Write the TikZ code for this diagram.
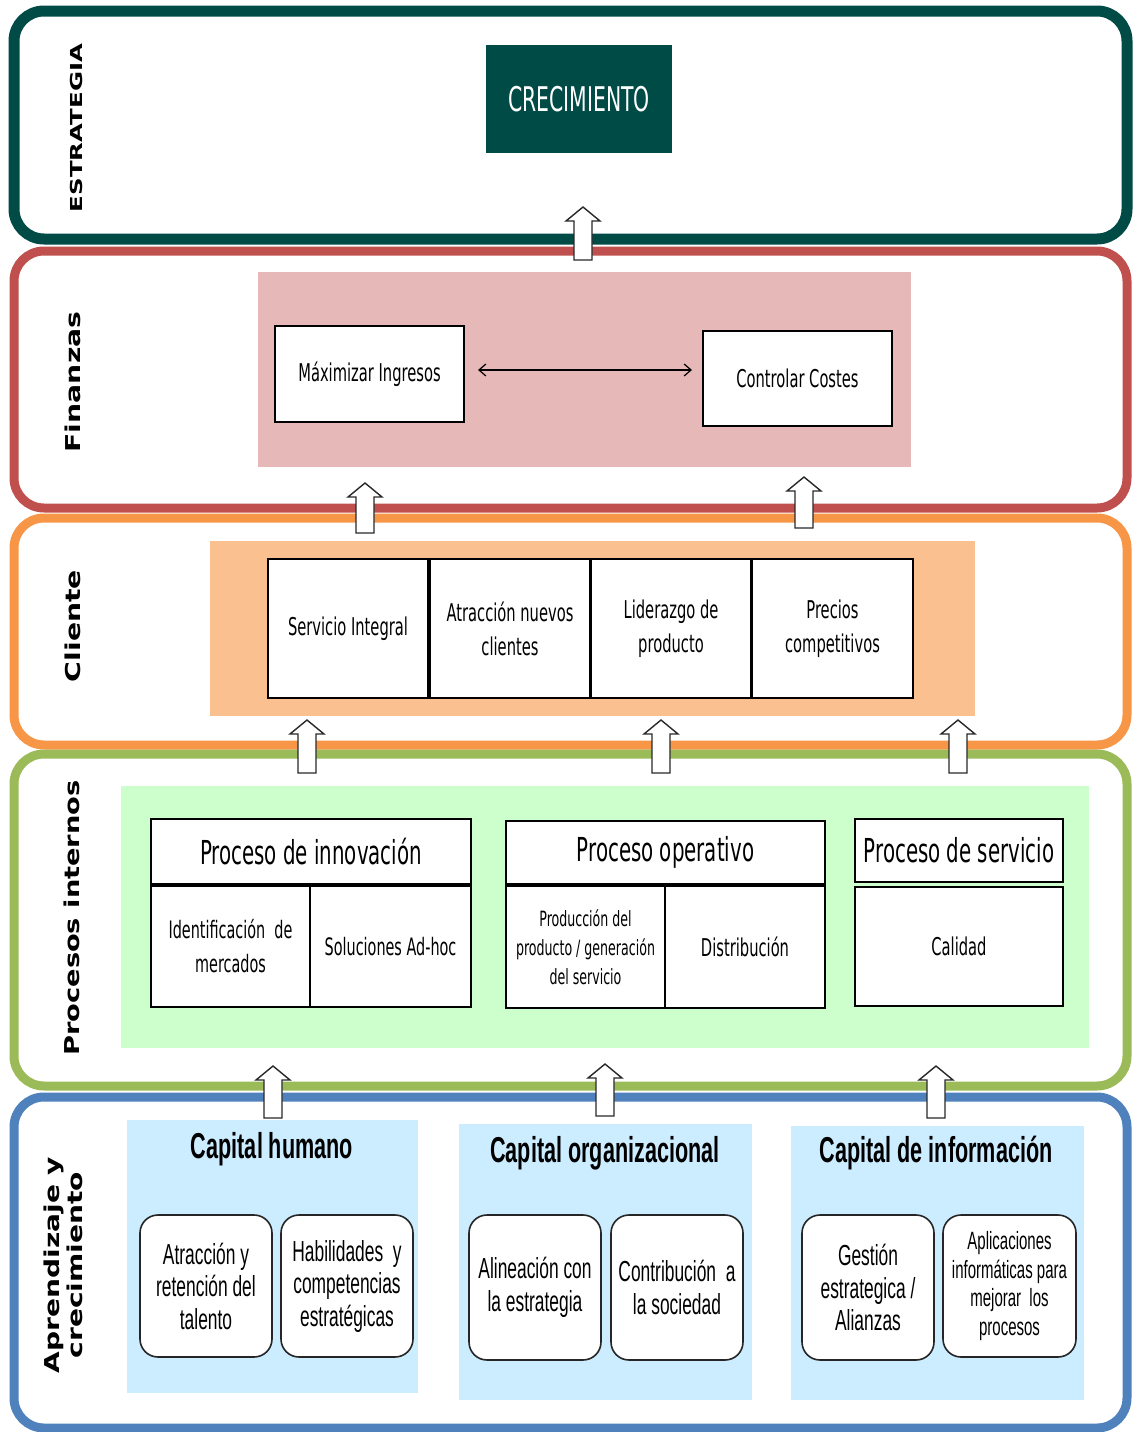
\documentclass[tikz,border=0pt]{standalone}
\usepackage{fontspec}
\usepackage{graphicx}
\usetikzlibrary{calc,arrows.meta}

% condensed faces for box texts, plain face for the lane titles
\newfontfamily\tahf[FakeStretch=0.6]{DejaVu Sans}
\newfontfamily\arf[FakeStretch=0.6]{Liberation Sans}
\newfontfamily\labf{DejaVu Sans}

\definecolor{cteal}{RGB}{1,75,71}
\definecolor{cred}{RGB}{192,80,77}
\definecolor{corange}{RGB}{247,150,70}
\definecolor{cgreen}{RGB}{155,187,89}
\definecolor{cblue}{RGB}{79,129,189}
\definecolor{fpink}{RGB}{230,184,183}
\definecolor{forange}{RGB}{250,192,143}
\definecolor{fgreen}{RGB}{204,255,204}
\definecolor{fblue}{RGB}{204,236,255}
\definecolor{arrline}{RGB}{40,40,40}

\tikzset{
  band/.style={line width=9pt, rounded corners=30pt, fill=white},
  panel/.style={draw=none, inner sep=0pt, outer sep=0pt, anchor=north west},
  cell/.style={draw=black, line width=1.6pt, fill=white, inner sep=0pt, outer sep=0pt,
    anchor=north west, align=center, font=\tahf\fontsize{24.5}{34}\selectfont},
  rcell/.style={cell, draw=black!85, rounded corners=18pt, font=\arf\fontsize{29}{32.5}\selectfont},
  headcell/.style={cell, font=\tahf\fontsize{33}{40}\selectfont},
  captitle/.style={anchor=base, inner sep=0pt, font=\arf\bfseries\fontsize{36}{40}\selectfont},
  blockarr/.style={draw=arrline, line width=1.4pt, fill=white, line join=miter},
  lane/.style={rotate=90, align=center, inner sep=0pt,
    font=\labf\bfseries\fontsize{20.5}{23}\selectfont},
  dbl/.style={{Straight Barb[length=7pt,width=12pt]}-{Straight Barb[length=7pt,width=12pt]}, line width=1.2pt},
}

% hollow upward block arrow from tail (#2) to tip (#1)
\newcommand\upblock[2]{%
  \draw[blockarr] ($(#2)+(-9,0)$) -- ($(#1)+(-9,14)$) -- ($(#1)+(-17,14)$) -- (#1)
    -- ($(#1)+(17,14)$) -- ($(#1)+(9,14)$) -- ($(#2)+(9,0)$) -- cycle;}

\begin{document}
\begin{tikzpicture}[x=1pt,y=-1pt]
\useasboundingbox (0,0) rectangle (1133,1432);

% ---- perspective bands ----
\draw[band, draw=cteal, line width=11pt] (14,11) rectangle (1127,239);
\draw[band, draw=cred] (14,251) rectangle (1127,508);
\draw[band, draw=corange] (14,518) rectangle (1127,745);
\draw[band, draw=cgreen] (14,754) rectangle (1127,1086);
\draw[band, draw=cblue] (14,1097) rectangle (1127,1428);

% ---- lane titles ----
\node[lane, font=\labf\bfseries\fontsize{16.5}{20}\selectfont] (lestr) at (76,128) {\scalebox{1.48}[1]{ESTRATEGIA}};
\node[lane] (lfin) at (73,382) {\scalebox{1.38}[1]{Finanzas}};
\node[lane] (lcli) at (73,626) {\scalebox{1.38}[1]{Cliente}};
\node[lane] (lpro) at (72,918) {\scalebox{1.33}[1]{Procesos internos}};
\node[lane] (lapr) at (63,1265) {\scalebox{1.37}[1]{Aprendizaje y}\\\scalebox{1.37}[1]{crecimiento}};

% ---- Estrategia ----
\node[panel, fill=cteal, minimum width=186pt, minimum height=108pt, text=white,
  font=\tahf\fontsize{34}{40}\selectfont] (crec) at (486,45) {CRECIMIENTO};

% ---- Finanzas ----
\node[panel, fill=fpink, minimum width=653pt, minimum height=195pt] (finpanel) at (258,272) {};
\node[cell, minimum width=189pt, minimum height=96pt] (maxi) at (275,326) {Máximizar Ingresos};
\node[cell, minimum width=189pt, minimum height=95pt] (ctrl) at (703,331) {Controlar Costes};
\draw[dbl] ($(maxi.east)+(14,-4)$) -- ($(ctrl.west |- maxi.east)+(-11,-4)$);

% ---- Cliente ----
\node[panel, fill=forange, minimum width=765pt, minimum height=175pt] (clipanel) at (210,541) {};
\node[cell, minimum width=160pt, minimum height=139pt] (c1) at (268,559) {Servicio Integral};
\node[cell, minimum width=160pt, minimum height=139pt] (c2) at (430,559) {Atracción nuevos\\clientes};
\node[cell, minimum width=160pt, minimum height=139pt] (c3) at (591,559) {Liderazgo de\\producto};
\node[cell, minimum width=161pt, minimum height=139pt] (c4) at (752,559) {Precios\\competitivos};

% ---- Procesos internos ----
\node[panel, fill=fgreen, minimum width=968pt, minimum height=262pt] (propanel) at (121,786) {};
\node[headcell, minimum width=320pt, minimum height=65pt] (pinn) at (151,819) {Proceso de innovación};
\node[cell, minimum width=159pt, minimum height=121pt, font=\tahf\fontsize{24}{34}\selectfont] (pinn1) at (151,886) {Identificación\ \ de\\mercados};
\node[cell, minimum width=161pt, minimum height=121pt, font=\tahf\fontsize{24}{34}\selectfont] (pinn2) at (310,886) {Soluciones Ad-hoc};
\node[headcell, minimum width=319pt, minimum height=63pt] (pope) at (506,821) {Proceso operativo};
\node[cell, minimum width=159pt, minimum height=122pt, font=\tahf\fontsize{21}{29}\selectfont] (pope1) at (506,886) {Producción del\\producto / generación\\del servicio};
\node[cell, minimum width=160pt, minimum height=122pt] (pope2) at (665,886) {Distribución};
\node[headcell, minimum width=208pt, minimum height=63pt] (pser) at (855,819) {Proceso de servicio};
\node[cell, minimum width=208pt, minimum height=119pt] (pser1) at (855,887) {Calidad};

% ---- Aprendizaje y crecimiento ----
\node[panel, fill=fblue, minimum width=291pt, minimum height=273pt] (cap1) at (127,1120) {};
\node[panel, fill=fblue, minimum width=293pt, minimum height=276pt] (cap2) at (459,1124) {};
\node[panel, fill=fblue, minimum width=293pt, minimum height=274pt] (cap3) at (791,1126) {};
\node[captitle] (t1) at (272,1158) {Capital humano};
\node[captitle] (t2) at (605,1162) {Capital organizacional};
\node[captitle] (t3) at (936,1162) {Capital de información};

\node[rcell, minimum width=132pt, minimum height=142pt] (h1) at (140,1215) {Atracción y\\retención del\\talento};
\node[rcell, minimum width=132pt, minimum height=142pt] (h2) at (281,1215) {Habilidades\ \ y\\competencias\\estratégicas};
\node[rcell, minimum width=132pt, minimum height=145pt] (o1) at (469,1215) {Alineación con\\la estrategia};
\node[rcell, minimum width=132pt, minimum height=145pt] (o2) at (611,1215) {Contribución\ \ a\\la sociedad};
\node[rcell, minimum width=132pt, minimum height=145pt] (i1) at (802,1215) {Gestión\\estrategica /\\Alianzas};
\node[rcell, minimum width=133pt, minimum height=142pt, font=\arf\fontsize{25}{28.5}\selectfont] (i2) at (943,1215) {Aplicaciones\\informáticas para\\mejorar\ \ los\\procesos};

% ---- block arrows between perspectives ----
\coordinate (a0t) at (583,207);  \coordinate (a0b) at (583,260);
\coordinate (a1t) at (365,483);  \coordinate (a1b) at (365,533);
\coordinate (a2t) at (804,477);  \coordinate (a2b) at (804,528);
\coordinate (a3t) at (307,720);  \coordinate (a3b) at (307,773);
\coordinate (a4t) at (661,720);  \coordinate (a4b) at (661,773);
\coordinate (a5t) at (958,720);  \coordinate (a5b) at (958,773);
\coordinate (a6t) at (273,1066); \coordinate (a6b) at (273,1118);
\coordinate (a7t) at (605,1064); \coordinate (a7b) at (605,1116);
\coordinate (a8t) at (936,1066); \coordinate (a8b) at (936,1118);
\upblock{a0t}{a0b}
\upblock{a1t}{a1b}
\upblock{a2t}{a2b}
\upblock{a3t}{a3b}
\upblock{a4t}{a4b}
\upblock{a5t}{a5b}
\upblock{a6t}{a6b}
\upblock{a7t}{a7b}
\upblock{a8t}{a8b}
\end{tikzpicture}
\end{document}
